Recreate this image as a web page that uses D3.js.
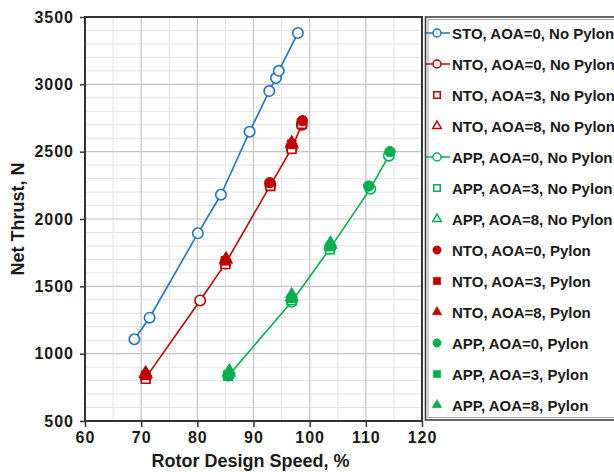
<!DOCTYPE html>
<html><head><meta charset="utf-8">
<script src="https://cdn.jsdelivr.net/npm/d3@7"></script>
<style>body{margin:0;background:#fff}svg{display:block}text{font-family:"Liberation Sans",Arial,sans-serif;font-weight:bold;fill:#1a1a1a}</style>
</head><body><svg id="c" width="614" height="472"></svg>
<script>
const xTicks = [60,70,80,90,100,110,120];
const yTicks = [500,1000,1500,2000,2500,3000,3500];
const seriesNames = ["STO, AOA=0, No Pylon","NTO, AOA=0, No Pylon","NTO, AOA=3, No Pylon","NTO, AOA=8, No Pylon","APP, AOA=0, No Pylon","APP, AOA=3, No Pylon","APP, AOA=8, No Pylon","NTO, AOA=0, Pylon","NTO, AOA=3, Pylon","NTO, AOA=8, Pylon","APP, AOA=0, Pylon","APP, AOA=3, Pylon","APP, AOA=8, Pylon"];
const seriesColor = ["#1f73c6","#c00000","#c00000","#c00000","#00b050","#00b050","#00b050","#c00000","#c00000","#c00000","#00b050","#00b050","#00b050"];
const seriesShape = ["circle","circle","square","triangle","circle","square","triangle","circle","square","triangle","circle","square","triangle"];
const seriesFilled = [false,false,false,false,false,false,false,true,true,true,true,true,true];
const seriesLine = [true,true,false,false,true,false,false,false,false,false,false,false,false];
const seriesX = [
  [68.8,71.5,80.1,84.2,89.3,92.8,94.0,94.5,97.9],
  [70.8,80.5,85.0,93.0,96.8,98.6],
  [70.8,85.0,93.0,96.8,98.6],
  [70.8,85.1,96.8],
  [85.6,96.8,103.6,110.8,114.1],
  [85.5,96.8,103.6],
  [85.6,96.8,103.7],
  [92.9,98.7],
  [70.8,85.0,96.8],
  [70.8,85.1,96.8],
  [85.5,110.5,114.3],
  [85.5,96.8,103.7],
  [85.7,96.8,103.7]
];
const seriesY = [
  [1107,1267,1894,2180,2648,2950,3047,3100,3381],
  [820,1395,1670,2250,2525,2700],
  [812,1665,2245,2520,2705],
  [850,1700,2560],
  [840,1385,1780,2225,2470],
  [835,1395,1775],
  [860,1420,1810],
  [2270,2730],
  [840,1690,2555],
  [860,1705,2570],
  [835,2245,2500],
  [845,1410,1795],
  [875,1440,1825]
];

const svg = d3.select("#c");
const L=85,R=422,T=17,B=421;
const x = d3.scaleLinear().domain([60,120]).range([L,R]);
const y = d3.scaleLinear().domain([500,3500]).range([B,T]);

const g = svg.append("g");
g.selectAll(".vm").data(d3.range(65,120,10)).enter().append("line")
 .attr("x1",d=>x(d)).attr("x2",d=>x(d)).attr("y1",T).attr("y2",B).attr("stroke","#e3e3e3").attr("stroke-width",1);
g.selectAll(".hm").data(d3.range(600,3500,100).filter(v=>v%500)).enter().append("line")
 .attr("y1",d=>y(d)).attr("y2",d=>y(d)).attr("x1",L).attr("x2",R).attr("stroke","#e3e3e3").attr("stroke-width",1);
g.selectAll(".vM").data(xTicks.slice(1,-1)).enter().append("line")
 .attr("x1",d=>x(d)).attr("x2",d=>x(d)).attr("y1",T).attr("y2",B).attr("stroke","#c4c4c4").attr("stroke-width",1.2);
g.selectAll(".hM").data(yTicks.slice(1,-1)).enter().append("line")
 .attr("y1",d=>y(d)).attr("y2",d=>y(d)).attr("x1",L).attr("x2",R).attr("stroke","#c4c4c4").attr("stroke-width",1.2);

const xa = svg.append("g").attr("transform",`translate(0,${B})`)
 .call(d3.axisBottom(x).tickValues(xTicks).tickFormat(d3.format("d")).tickSize(6).tickPadding(5));
const ya = svg.append("g").attr("transform",`translate(${L},0)`)
 .call(d3.axisLeft(y).tickValues(yTicks).tickFormat(d3.format("d")).tickSize(5).tickPadding(6));
[xa,ya].forEach(a=>{a.select(".domain").remove();a.selectAll("line").attr("stroke","#333").attr("stroke-width",1.5);
 a.selectAll("text").style("font-size","16px").style("letter-spacing","1px").attr("fill","#1a1a1a");});
svg.append("rect").attr("x",L).attr("y",T).attr("width",R-L).attr("height",B-T)
 .attr("fill","none").attr("stroke","#333").attr("stroke-width",2);

svg.append("text").attr("x",(L+R)/2-3).attr("y",467).attr("text-anchor","middle").style("font-size","18px").text("Rotor Design Speed, %");
svg.append("text").attr("transform",`translate(24,${(T+B)/2}) rotate(-90)`).attr("text-anchor","middle").style("font-size","18px").text("Net Thrust, N");

function sym(shape,size){
  const t = shape==="circle"?d3.symbolCircle:shape==="square"?d3.symbolSquare:d3.symbolTriangle;
  return d3.symbol().type(t).size(size)();
}
const symSize = {circle:85,square:75,triangle:60};

seriesNames.forEach((n,i)=>{
  if(!seriesLine[i]) return;
  const pts = seriesX[i].map((v,j)=>[v,seriesY[i][j]]);
  svg.append("path").datum(pts).attr("fill","none").attr("stroke",seriesColor[i]).attr("stroke-width",1.6)
   .attr("d",d3.line().x(d=>x(d[0])).y(d=>y(d[1])));
});
seriesNames.forEach((n,i)=>{
  const pts = seriesX[i].map((v,j)=>[v,seriesY[i][j]]);
  svg.append("g").selectAll("path").data(pts).enter().append("path")
   .attr("d",sym(seriesShape[i],symSize[seriesShape[i]]))
   .attr("transform",d=>`translate(${x(d[0])},${y(d[1])})`)
   .attr("fill",seriesFilled[i]?seriesColor[i]:"#fff")
   .attr("stroke",seriesColor[i]).attr("stroke-width",seriesFilled[i]?1:1.6);
});

const lg = svg.append("g");
lg.append("rect").attr("x",425.5).attr("y",T).attr("width",200).attr("height",B-T-1)
 .attr("fill","#fff").attr("stroke","#333").attr("stroke-width",1.5);
lg.append("rect").attr("x",428).attr("y",T+2.5).attr("width",200).attr("height",B-T-6)
 .attr("fill","none").attr("stroke","#888").attr("stroke-width",0.8);
const ly = d3.scaleLinear().domain([0,12]).range([33,405]);
seriesNames.forEach((n,i)=>{
  const yy = ly(i);
  if(seriesLine[i]) lg.append("line").attr("x1",426).attr("x2",450).attr("y1",yy).attr("y2",yy).attr("stroke",seriesColor[i]).attr("stroke-width",1.5);
  const s = seriesShape[i]==="circle"?(seriesFilled[i]?55:50):seriesShape[i]==="square"?(seriesFilled[i]?55:42):(seriesFilled[i]?40:32);
  lg.append("path").attr("d",sym(seriesShape[i],s)).attr("transform",`translate(437,${yy})`)
   .attr("fill",seriesFilled[i]?seriesColor[i]:"#fff").attr("stroke",seriesColor[i]).attr("stroke-width",seriesFilled[i]?0.5:1.5);
  lg.append("text").attr("x",452).attr("y",yy+5.5).style("font-size","15px").text(n);
});
</script></body></html>
